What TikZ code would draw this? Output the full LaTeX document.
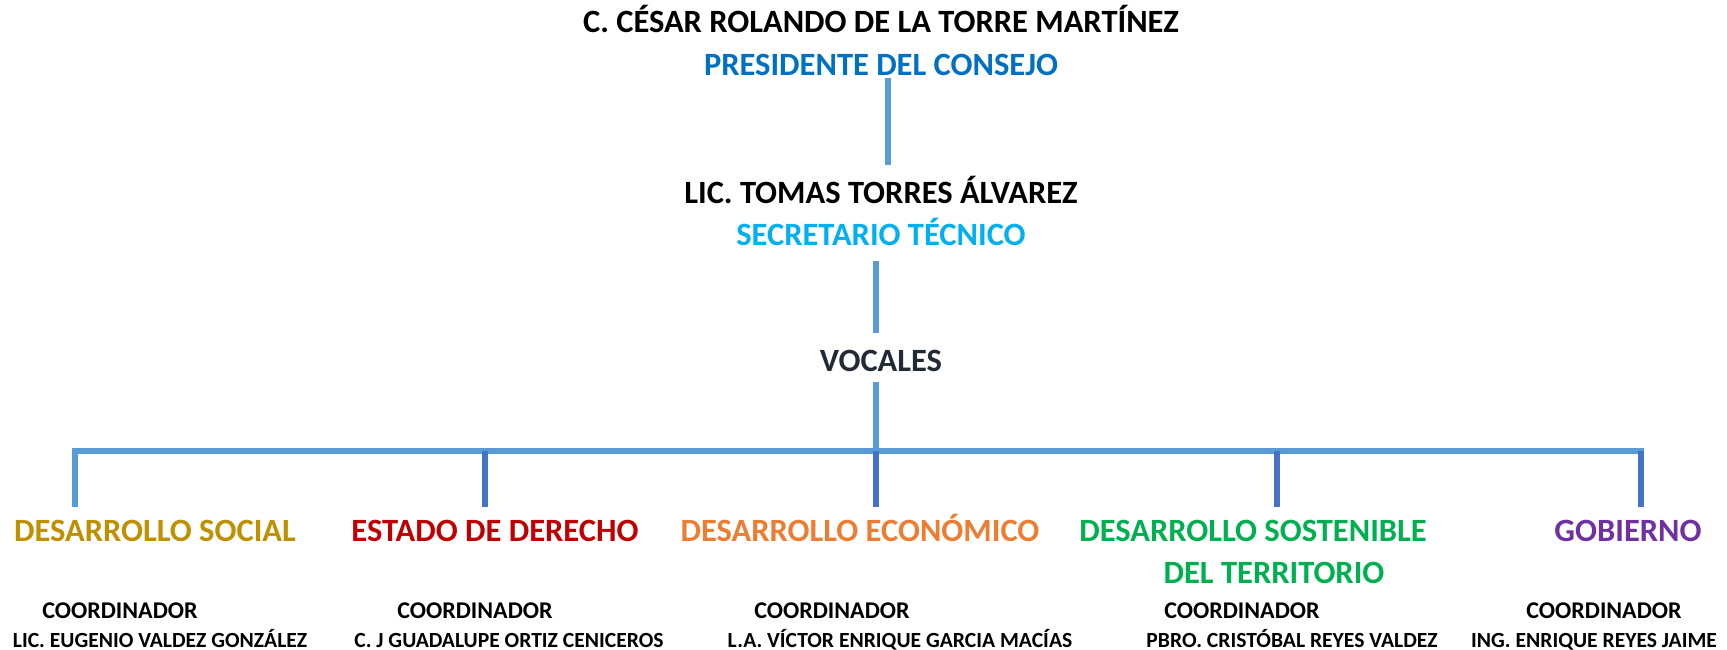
\documentclass[tikz,border=0pt]{standalone}
\usepackage{fontspec}
\setmainfont{Carlito}
\usepackage{tikz}
\usetikzlibrary{positioning}
\definecolor{linkc}{HTML}{5B9BD5}
\definecolor{dropc}{HTML}{4472C4}
\definecolor{presc}{HTML}{0070C0}
\definecolor{secc}{HTML}{00B0F0}
\definecolor{vocc}{HTML}{222A35}
\definecolor{socialc}{HTML}{BF9000}
\definecolor{derechoc}{HTML}{C00000}
\definecolor{econc}{HTML}{ED7D31}
\definecolor{sostc}{HTML}{00B050}
\definecolor{gobc}{HTML}{7030A0}
\tikzset{
  link/.style={draw=linkc, line width=6pt},
  drop/.style={draw=dropc, line width=6pt},
  big/.style={font=\bfseries\fontsize{32.5}{38}\selectfont, inner sep=0pt, anchor=base, text height=24pt, text depth=0pt},
  mid/.style={font=\bfseries\fontsize{24}{28}\selectfont, inner sep=0pt, anchor=base},
  small/.style={font=\bfseries\fontsize{21.6}{25}\selectfont, inner sep=0pt, anchor=base}
}
\begin{document}
\begin{tikzpicture}[x=1pt,y=-1pt]
  \useasboundingbox (0,0) rectangle (1727,650);
  % top of the chart
  \node[big] (presname) at (881,33) {C. CÉSAR ROLANDO DE LA TORRE MARTÍNEZ};
  \node[big,text=presc] (presrole) at (881,76) {PRESIDENTE DEL CONSEJO};
  \node[big] (secname) at (881,203) {LIC. TOMAS TORRES ÁLVAREZ};
  \node[big,text=secc] (secrole) at (881,245) {SECRETARIO TÉCNICO};
  \node[big,text=vocc] (vocales) at (881,371) {VOCALES};
  \draw[link,shorten <=2pt,shorten >=14pt] ([xshift=7pt]presrole.south) -- ([xshift=7pt]secname.north);
  \draw[link,shorten <=16pt,shorten >=14pt] ([xshift=-5pt]secrole.south) -- ([xshift=-5pt]vocales.north);
  % bar and drops
  \coordinate (b1) at (75,451);
  \coordinate (b2) at (485,451);
  \coordinate (b3) at (876,451);
  \coordinate (b4) at (1277,451);
  \coordinate (b5) at (1641,451);
  \draw[link,shorten <=11pt] ([xshift=-5pt]vocales.south) -- (b3);
  \draw[link] ([xshift=-3pt]b1) -- ([xshift=3pt]b5);
  % areas
  \node[big,text=socialc] (social) at (155,541) {DESARROLLO SOCIAL};
  \node[big,text=derechoc] (derecho) at (495,541) {ESTADO DE DERECHO};
  \node[big,text=econc] (econ) at (860,541) {DESARROLLO ECONÓMICO};
  \node[big,text=sostc] (sost) at (1253,541) {DESARROLLO SOSTENIBLE};
  \node[big,text=sostc] (sost2) at (1274,583) {DEL TERRITORIO};
  \node[big,text=gobc] (gob) at (1628,541) {GOBIERNO};
  \draw[link,shorten >=10pt] (b1) -- (b1 |- social.north);
  \foreach \b/\n in {b2/derecho,b3/econ,b4/sost,b5/gob}
    \draw[drop,shorten >=10pt] (\b) -- (\b |- \n.north);
  % coordinators
  \node[mid] (coord1) at (120,618) {COORDINADOR};
  \node[mid] (coord2) at (475,618) {COORDINADOR};
  \node[mid] (coord3) at (832,618) {COORDINADOR};
  \node[mid] (coord4) at (1242,618) {COORDINADOR};
  \node[mid] (coord5) at (1604,618) {COORDINADOR};
  \node[small] (name1) at (160,647) {LIC. EUGENIO VALDEZ GONZÁLEZ};
  \node[small] (name2) at (509,647) {C. J GUADALUPE ORTIZ CENICEROS};
  \node[small] (name3) at (900,647) {L.A. VÍCTOR ENRIQUE GARCIA MACÍAS};
  \node[small] (name4) at (1292,647) {PBRO. CRISTÓBAL REYES VALDEZ};
  \node[small] (name5) at (1594,647) {ING. ENRIQUE REYES JAIME};
\end{tikzpicture}
\end{document}
